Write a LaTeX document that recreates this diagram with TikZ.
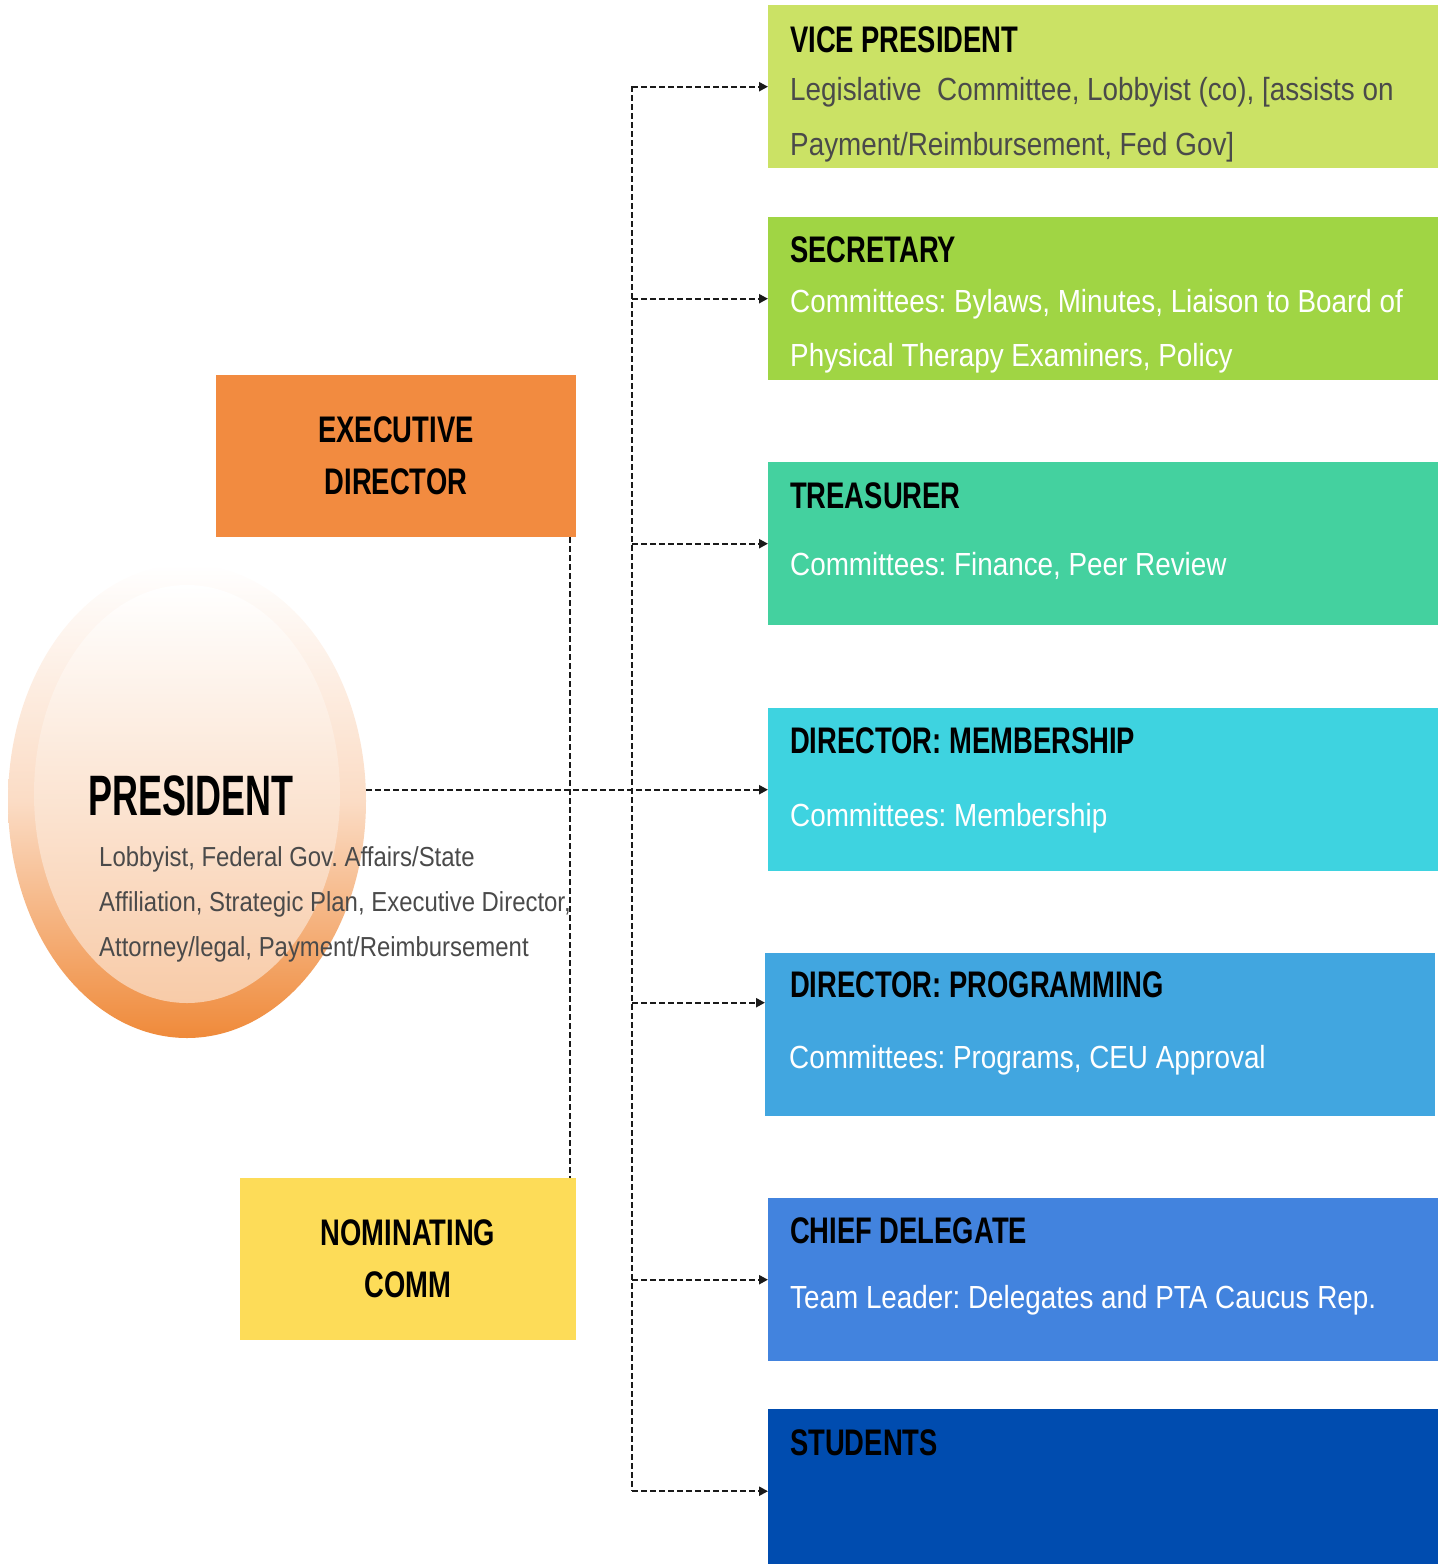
\documentclass[tikz,border=0pt]{standalone}
\usepackage{fontspec}
\usepackage{tikz}
\usetikzlibrary{arrows.meta,calc,shapes.geometric}

\newfontfamily\headfont{Liberation Sans}[FakeStretch=0.74]
\newfontfamily\bodyfont{Liberation Sans}[FakeStretch=0.87]
\newfontfamily\presfont{Liberation Sans}[FakeStretch=0.63]
\frenchspacing

\definecolor{vpgreen}{HTML}{CBE265}
\definecolor{secgreen}{HTML}{A0D544}
\definecolor{tresgreen}{HTML}{44D19F}
\definecolor{memcyan}{HTML}{3ED3E0}
\definecolor{progblue}{HTML}{41A6E0}
\definecolor{chiefblue}{HTML}{4283DE}
\definecolor{studblue}{HTML}{004CAF}
\definecolor{execorange}{HTML}{F28B40}
\definecolor{nomyellow}{HTML}{FDDC58}
\definecolor{presorange}{HTML}{EF8A3A}
\definecolor{prespeach}{HTML}{FBDCC5}
\definecolor{innerpeach}{HTML}{F8CBA8}
\definecolor{bodygray}{HTML}{4A4A4A}
\definecolor{linkgray}{HTML}{1A1A1A}

\begin{document}
\begin{tikzpicture}[x=1pt,y=-1pt,
    role box/.style={rectangle,anchor=north west,inner sep=0pt,minimum width=670pt,minimum height=163pt},
    side box/.style={rectangle,inner sep=0pt,align=center,font=\headfont\bfseries\fontsize{37}{52}\selectfont},
    head text/.style={anchor=base west,inner sep=0pt,font=\headfont\bfseries\fontsize{37}{44}\selectfont},
    body text/.style={anchor=base west,inner sep=0pt,text=white,font=\bodyfont\fontsize{32}{40}\selectfont},
    pres text/.style={anchor=base west,inner sep=0pt,text=bodygray,font=\bodyfont\fontsize{27.5}{34}\selectfont},
    link/.style={draw=linkgray,line width=2.2pt,dash pattern=on 6pt off 3pt},
    arrow link/.style={link,-{Triangle[length=9pt,width=9pt]}}]

  \useasboundingbox (0,0) rectangle (1443,1564);

  % president
  \node[ellipse,inner sep=0pt,minimum width=358pt,minimum height=474pt,
        top color=white,bottom color=presorange,middle color=prespeach] (pres) at (187,801) {};
  \shade[top color=white,bottom color=innerpeach] (187,794) ellipse [x radius=153,y radius=209];
  \node[anchor=base west,inner sep=0pt,font=\presfont\bfseries\fontsize{57}{60}\selectfont] (presHead) at (88,815) {PRESIDENT};
  \node[pres text] (presLineA) at (99,866) {Lobbyist, Federal Gov. Affairs/State};
  \node[pres text] (presLineB) at (99,911) {Affiliation, Strategic Plan, Executive Director,};
  \node[pres text] (presLineC) at (99,956) {Attorney/legal, Payment/Reimbursement};

  % side boxes
  \node[side box,fill=execorange,minimum width=360pt,minimum height=162pt] (exec) at (396,456) {EXECUTIVE\\DIRECTOR};
  \node[side box,fill=nomyellow,minimum width=336pt,minimum height=162pt] (nom) at (408,1259) {NOMINATING\\COMM};

  % officers
  \node[role box,fill=vpgreen] (vp) at (768,5) {};
  \node[head text] (vpHead) at ($(vp.north west)+(22,47)$) {VICE PRESIDENT};
  \node[body text,text=bodygray] (vpLineA) at ($(vp.north west)+(22,95)$) {Legislative~ Committee, Lobbyist (co), [assists on};
  \node[body text,text=bodygray] (vpLineB) at ($(vp.north west)+(22,150)$) {Payment/Reimbursement, Fed Gov]};

  \node[role box,fill=secgreen] (sec) at (768,217) {};
  \node[head text] (secHead) at ($(sec.north west)+(22,45)$) {SECRETARY};
  \node[body text] (secLineA) at ($(sec.north west)+(22,95)$) {Committees: Bylaws, Minutes, Liaison to Board of};
  \node[body text] (secLineB) at ($(sec.north west)+(22,149)$) {Physical Therapy Examiners, Policy};

  \node[role box,fill=tresgreen] (tres) at (768,462) {};
  \node[head text] (tresHead) at ($(tres.north west)+(22,46)$) {TREASURER};
  \node[body text] (tresLine) at ($(tres.north west)+(22,113)$) {Committees: Finance, Peer Review};

  \node[role box,fill=memcyan] (mem) at (768,708) {};
  \node[head text] (memHead) at ($(mem.north west)+(22,45)$) {DIRECTOR: MEMBERSHIP};
  \node[body text] (memLine) at ($(mem.north west)+(22,118)$) {Committees: Membership};

  \node[role box,fill=progblue] (prog) at (765,953) {};
  \node[head text] (progHead) at ($(prog.north west)+(25,44)$) {DIRECTOR: PROGRAMMING};
  \node[body text] (progLine) at ($(prog.north west)+(24,115)$) {Committees: Programs, CEU Approval};

  \node[role box,fill=chiefblue] (chief) at (768,1198) {};
  \node[head text] (chiefHead) at ($(chief.north west)+(22,45)$) {CHIEF DELEGATE};
  \node[body text] (chiefLine) at ($(chief.north west)+(22,110)$) {Team Leader: Delegates and PTA Caucus Rep.};

  \node[role box,fill=studblue,minimum height=164pt] (stud) at (768,1409) {};
  \node[head text] (studHead) at ($(stud.north west)+(22,46)$) {STUDENTS};

  % connectors
  \coordinate (trunkTop) at (632,86);
  \coordinate (trunkBot) at (632,1491);
  \draw[link] (trunkTop) -- (trunkBot);
  \foreach \b in {vp,sec,tres,chief,stud}
    \draw[arrow link] (trunkTop |- \b.west) -- (\b.west);
  \coordinate (progIn) at ([yshift=32pt]prog.west);
  \draw[arrow link] (trunkTop |- progIn) -- (progIn);
  \draw[arrow link] (pres.east |- mem.west) -- (mem.west);
  \draw[link] ([xshift=-6pt]exec.south east) -- ([xshift=-6pt]nom.north east);
\end{tikzpicture}
\end{document}
